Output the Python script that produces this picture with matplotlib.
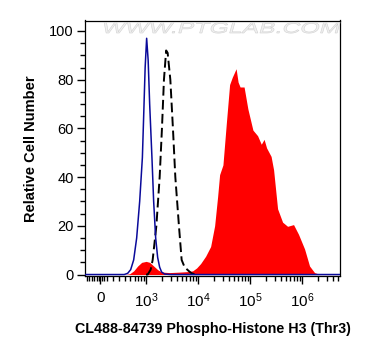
import numpy as np
import matplotlib
matplotlib.use('Agg')
import matplotlib.pyplot as plt
from matplotlib.textpath import TextPath
from matplotlib.patches import PathPatch
from matplotlib.font_manager import FontProperties
from matplotlib.transforms import Affine2D

plt.rcParams['font.family'] = ['Liberation Sans', 'DejaVu Sans']
plt.rcParams['mathtext.fontset'] = 'custom'
plt.rcParams['mathtext.rm'] = 'Liberation Sans'

# red filled histogram (CL488-84739 stained)
red_x = [-250, 388, 484, 578, 690, 824, 1005, 1174, 1401, 1673, 1998, 2848, 4431,
         6318, 7881, 9409, 11230, 14010, 17490, 20880, 23850, 26040, 30180, 35040,
         40560, 45660, 54090, 59100, 64500, 77010, 91110, 113900, 140100, 165000,
         186900, 208700, 255000, 284800, 339900, 424200, 529200, 689400, 860100,
         1123500, 1401000, 1748000, 2180000, 5400000]
red_y = [0, 0, 0.3, 1.5, 3.5, 5.0, 5.4, 5.0, 3.5, 2.0, 1.0, 0.8, 1.0,
         1.2, 1.5, 2.7, 4.5, 7.5, 11.5, 20, 32, 41, 45, 62,
         78, 81, 84.5, 79, 77, 77, 68, 59.3, 57, 53.5,
         55.5, 52, 48.5, 43, 27, 21.5, 19.8, 20.5, 16.5,
         10.5, 3.5, 0.8, 0.1, 0]

# blue line (blank control)
blue_x = [-250, 380, 443, 506, 578, 660, 754, 850, 900, 961, 1027, 1098, 1174,
          1299, 1401, 1532, 1673, 1828, 1998, 2280, 3000, 5400000]
blue_y = [0, 0, 0.5, 2, 6, 15, 30, 48, 65, 85, 97, 88, 70,
          48, 30, 15, 7, 3, 1, 0.2, 0, 0]

# black dashed line (isotype control)
black_x = [1000, 1074, 1227, 1341, 1580, 1828, 2024, 2211, 2437, 2605, 2934, 3292,
           3660, 4295, 4842, 5527, 6600, 7542, 9000]
black_y = [0, 0, 2, 6, 20, 40, 60, 80, 92, 91, 80, 60,
           40, 20, 6, 3, 1.5, 0.5, 0]

fig = plt.figure(figsize=(3.69, 3.56), dpi=100)
ax = fig.add_axes([85/369, 1-276/356, 255/369, 255.5/356])

ax.set_xscale('symlog', linthresh=300, linscale=0.32)
ax.fill_between(red_x, red_y, 0, color='#ff0000', lw=0, zorder=2)
ax.plot(black_x, black_y, color='black', lw=1.4, dashes=(5, 2.2), zorder=3)
ax.plot(blue_x, blue_y, color='#0a0a9a', lw=1.1, zorder=4)

ax.set_xlim(-250, 5.4e6)
ax.set_ylim(-0.6, 104.3)

# ticks
ax.set_xticks([0, 1e3, 1e4, 1e5, 1e6])
ax.set_xticklabels(['0', r'$\mathregular{10^3}$', r'$\mathregular{10^4}$',
                    r'$\mathregular{10^5}$', r'$\mathregular{10^6}$'])
minor = [-220, -180, -140, -100, -60, -30, 30, 60, 100, 200, 300, 400, 500, 600, 700, 800, 900]
for dec in [1e3, 1e4, 1e5, 1e6]:
    minor += [m * dec for m in range(2, 10)]
ax.set_xticks([m for m in minor if m < 5.4e6], minor=True)
ax.set_yticks([0, 20, 40, 60, 80, 100])
ax.set_yticks(np.arange(0, 105, 5), minor=True)

ax.tick_params(axis='both', which='major', direction='out', length=6, width=1,
               labelsize=10.5, pad=2)
ax.tick_params(axis='x', which='major', labelsize=11, pad=5)
ax.tick_params(axis='both', which='minor', direction='out', length=3.5, width=1)
for s in ax.spines.values():
    s.set_linewidth(0.9)

ax.set_ylabel('Relative Cell Number', fontsize=10.5, fontweight='bold', labelpad=8)
ax.set_xlabel('CL488-84739 Phospho-Histone H3 (Thr3)', fontsize=10.3,
              fontweight='bold', labelpad=9)

# watermark
tp = TextPath((0, 0), 'WWW.PTGLAB.COM', size=1, prop=FontProperties(family='Liberation Sans'))
ext = tp.get_extents()
sx = 236 / ext.width
sy = 11 / 0.716
tr = (Affine2D().skew_deg(10, 0).scale(sx, sy).translate(101, 356 - 33)
      + Affine2D().scale(1 / 369, 1 / 356) + fig.transFigure)
fig.patches.append(PathPatch(tp, transform=tr, facecolor='#f0f0f0',
                             edgecolor='#cfcfcf', lw=0.4, zorder=0))

fig.savefig('out.png', dpi=100)
